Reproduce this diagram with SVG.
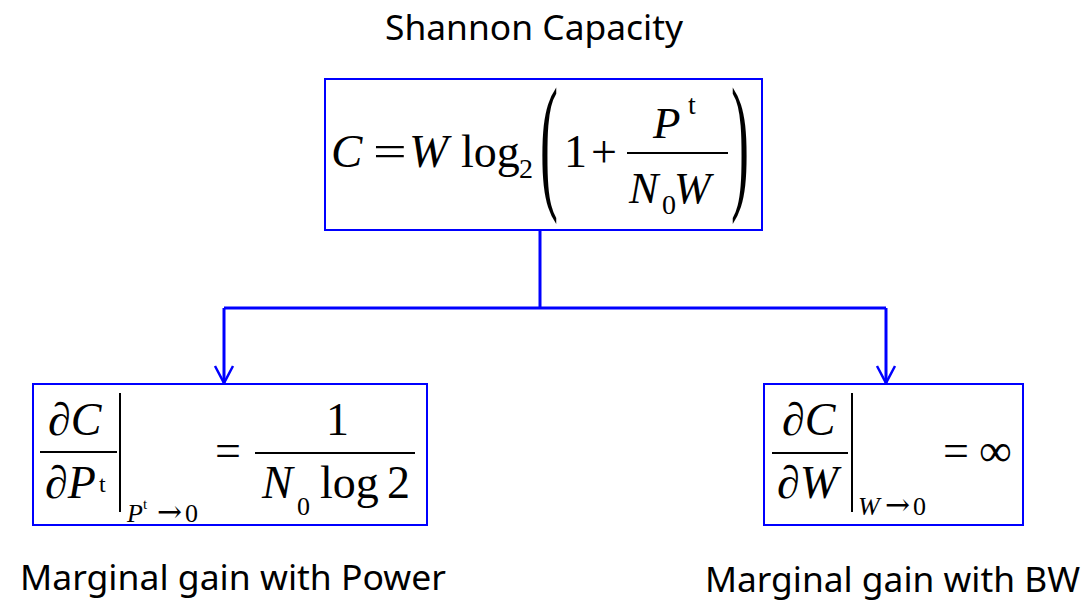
<svg xmlns="http://www.w3.org/2000/svg" width="1090" height="600" viewBox="0 0 1090 600">
<style>
.box{fill:#fff;stroke:#0000ff;stroke-width:2}
.lbl{font-family:"Comic Sans MS","Noto Sans","DejaVu Sans",sans-serif;font-size:34px;fill:#000}
.m{font-family:"Liberation Serif","Times New Roman",serif;fill:#000}
.a{font-family:"DejaVu Serif",serif;fill:#000}
.i{font-style:italic}
.rule{stroke:#000;stroke-width:2}
.conn{fill:none;stroke:#0000ff;stroke-width:3}
</style>
<defs>
<marker id="arr" markerUnits="userSpaceOnUse" markerWidth="24" markerHeight="24" refX="18" refY="10" orient="auto" viewBox="0 0 24 20">
<path d="M1,1 L18,10 L1,19" fill="none" stroke="#0000ff" stroke-width="2.5"/>
</marker>
</defs>
<rect width="1090" height="600" fill="#fff"/>
<text class="lbl" x="385" y="40" textLength="298" lengthAdjust="spacingAndGlyphs">Shannon Capacity</text>

<g id="connectors">
<path class="conn" d="M540,230 L540,308"/>
<path class="conn" d="M224,308 L886,308"/>
<path class="conn" d="M224,308 L224,383" marker-end="url(#arr)"/>
<path class="conn" d="M886,308 L886,383" marker-end="url(#arr)"/>
</g>

<g id="capacity">
<rect class="box" x="325" y="79" width="437" height="151"/>
<text class="m i" x="331" y="167" font-size="47">C</text>
<text class="m" transform="translate(373,167) scale(1.3,1)" font-size="46">=</text>
<text class="m i" x="409" y="167" font-size="47">W</text>
<text class="m" x="461" y="167" font-size="46">log</text>
<text class="m" x="519" y="178" font-size="28">2</text>
<text class="m" transform="translate(540,192) scale(1.5,4.2)" font-size="36">(</text>
<text class="m" x="564" y="167" font-size="46">1</text>
<text class="m" x="591" y="167" font-size="46">+</text>
<text class="m i" x="653" y="138" font-size="45">P</text>
<text class="m" x="688" y="114" font-size="28">t</text>
<line class="rule" x1="627" y1="153" x2="728" y2="153"/>
<text class="m i" x="629" y="203" font-size="44">N</text>
<text class="m" x="662" y="214" font-size="28">0</text>
<text class="m i" x="674" y="203" font-size="44">W</text>
<text class="m" transform="translate(731,192) scale(1.5,4.2)" font-size="36">)</text>
</g>

<g id="power">
<rect class="box" x="33" y="384" width="394" height="141"/>
<text class="m" x="48" y="435" font-size="46">∂<tspan class="i">C</tspan></text>
<line class="rule" x1="40" y1="452" x2="117" y2="452"/>
<text class="m" x="45" y="498" font-size="46">∂<tspan class="i">P</tspan></text>
<text class="m" x="99" y="492" font-size="24">t</text>
<line class="rule" x1="120" y1="393" x2="120" y2="512"/>
<text class="m i" x="127" y="522" font-size="26">P</text>
<text class="m" x="143" y="509" font-size="15">t</text>
<text class="a" x="157" y="522" font-size="30">→</text>
<text class="m" x="185" y="522" font-size="26">0</text>
<text class="m" x="215" y="466" font-size="46">=</text>
<line class="rule" x1="255" y1="453" x2="415" y2="453"/>
<text class="m" x="326" y="435" font-size="46">1</text>
<text class="m i" x="262" y="498" font-size="46">N</text>
<text class="m" x="297" y="515" font-size="26">0</text>
<text class="m" x="320" y="498" font-size="46">log</text>
<text class="m" x="387" y="498" font-size="46">2</text>
</g>

<g id="bandwidth">
<rect class="box" x="764" y="384" width="259" height="141"/>
<text class="m" x="782" y="435" font-size="46">∂<tspan class="i">C</tspan></text>
<line class="rule" x1="772" y1="453" x2="848" y2="453"/>
<text class="m" x="777" y="498" font-size="46">∂<tspan class="i">W</tspan></text>
<line class="rule" x1="852" y1="393" x2="852" y2="512"/>
<text class="m i" x="858" y="515" font-size="26">W</text>
<text class="a" x="885" y="515" font-size="30">→</text>
<text class="m" x="913" y="515" font-size="26">0</text>
<text class="m" x="943" y="466" font-size="46">=</text>
<text class="m" x="979" y="466" font-size="46">∞</text>
</g>

<text class="lbl" x="20" y="590" textLength="426" lengthAdjust="spacingAndGlyphs">Marginal gain with Power</text>
<text class="lbl" x="705" y="592" textLength="375" lengthAdjust="spacingAndGlyphs">Marginal gain with BW</text>
</svg>
